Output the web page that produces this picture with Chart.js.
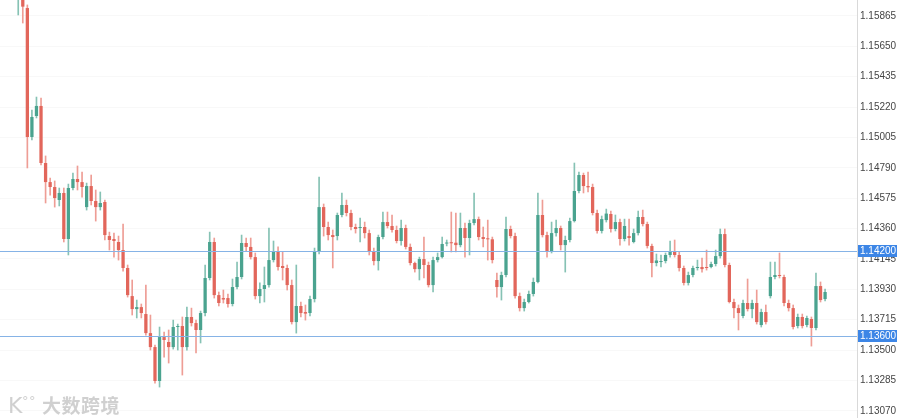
<!DOCTYPE html>
<html>
<head>
<meta charset="utf-8">
<script src="https://cdn.jsdelivr.net/npm/chart.js@4.4.0/dist/chart.umd.min.js"></script>
<style>
html,body{margin:0;padding:0;background:#ffffff;}
#wrap{position:relative;width:900px;height:418px;overflow:hidden;}
#wm{position:absolute;left:8px;top:389px;font-family:'Noto Sans CJK SC','Noto Sans',sans-serif;font-size:19px;font-weight:700;color:rgba(200,200,200,0.85);white-space:nowrap;letter-spacing:0.5px;line-height:24px;}
#wm .logo{font-family:'DejaVu Sans',sans-serif;font-size:22px;font-weight:400;margin-right:6px;}
#wm .logo sup{font-size:13px;vertical-align:8px;margin-left:-1px;}
</style>
</head>
<body>
<div id="wrap">
<canvas id="c" width="900" height="418"></canvas>
<div id="wm"><span class="logo">K<sup>°°</sup></span>大数跨境</div>
</div>
<script>
// OHLC values, one entry per candle (oldest first)
const openValues = [
1.16040,1.16070,1.15921,1.15008,1.15157,1.15228,1.14824,1.14689,1.14654,1.14562,
1.14612,1.14286,1.14647,1.14711,1.14689,1.14512,1.14661,1.14555,1.14512,1.14548,
1.14307,1.14286,1.14265,1.14208,1.14081,1.13882,1.13790,1.13804,1.13755,1.13620,
1.13521,1.13281,1.13592,1.13557,1.13521,1.13663,1.13670,1.13521,1.13734,1.13691,
1.13642,1.13762,1.14010,1.14265,1.13889,1.13868,1.13868,1.13826,1.13946,1.14017,
1.14258,1.14230,1.14158,1.13882,1.13932,1.13960,1.14137,1.14201,1.14095,1.14081,
1.13960,1.13698,1.13812,1.13769,1.13762,1.13861,1.14194,1.14512,1.14371,1.14314,
1.14307,1.14456,1.14527,1.14470,1.14371,1.14364,1.14371,1.14328,1.14194,1.14130,
1.14300,1.14406,1.14378,1.14350,1.14272,1.14364,1.14230,1.14116,1.14073,1.14144,
1.14102,1.13960,1.14137,1.14158,1.14254,1.14260,1.14260,1.14243,1.14364,1.14293,
1.14399,1.14427,1.14300,1.14288,1.14284,1.13996,1.13946,1.14031,1.14357,1.14307,
1.13882,1.13797,1.13840,1.13897,1.13982,1.14456,1.14314,1.14194,1.14328,1.14364,
1.14243,1.14279,1.14413,1.14626,1.14739,1.14661,1.14654,1.14470,1.14343,1.14420,
1.14463,1.14357,1.14406,1.14286,1.14307,1.14265,1.14328,1.14442,1.14392,1.14237,
1.14116,1.14123,1.14130,1.14173,1.14201,1.14173,1.14081,1.13975,1.14031,1.14081,
1.14088,1.14088,1.14088,1.14109,1.14165,1.14321,1.14102,1.13840,1.13797,1.13741,
1.13833,1.13790,1.13833,1.13677,1.13769,1.13882,1.14017,1.14031,1.14017,1.13833,
1.13797,1.13670,1.13734,1.13677,1.13720,1.13656,1.13953,1.13861
];
const highValues = [
1.16200,1.16120,1.15943,1.15199,1.15291,1.15284,1.14874,1.14718,1.14697,1.14647,
1.14647,1.14675,1.14753,1.14803,1.14760,1.14682,1.14739,1.14633,1.14619,1.14562,
1.14335,1.14328,1.14307,1.14392,1.14102,1.13996,1.13854,1.13826,1.13960,1.13748,
1.13535,1.13663,1.13628,1.13642,1.13712,1.13684,1.13734,1.13804,1.13797,1.13712,
1.13776,1.14102,1.14335,1.14293,1.13911,1.13925,1.13897,1.14003,1.14123,1.14314,
1.14293,1.14293,1.14187,1.13975,1.14088,1.14364,1.14272,1.14230,1.14194,1.14102,
1.13996,1.14102,1.13840,1.13819,1.13882,1.14222,1.14725,1.14534,1.14406,1.14350,
1.14470,1.14612,1.14562,1.14491,1.14392,1.14434,1.14406,1.14350,1.14222,1.14314,
1.14477,1.14477,1.14456,1.14378,1.14420,1.14385,1.14251,1.14123,1.14158,1.14300,
1.14123,1.14158,1.14187,1.14300,1.14279,1.14477,1.14470,1.14470,1.14399,1.14420,
1.14612,1.14442,1.14371,1.14420,1.14300,1.14045,1.14052,1.14442,1.14378,1.14328,
1.13904,1.13861,1.13918,1.14010,1.14612,1.14562,1.14335,1.14406,1.14420,1.14378,
1.14307,1.14434,1.14824,1.14760,1.14753,1.14760,1.14675,1.14491,1.14449,1.14498,
1.14484,1.14456,1.14427,1.14427,1.14427,1.14357,1.14484,1.14491,1.14406,1.14251,
1.14180,1.14173,1.14187,1.14272,1.14279,1.14194,1.14095,1.14052,1.14095,1.14137,
1.14151,1.14208,1.14123,1.14208,1.14357,1.14357,1.14116,1.13861,1.13819,1.13854,
1.14003,1.13854,1.13925,1.13790,1.13819,1.14123,1.14123,1.14187,1.14031,1.13854,
1.13819,1.13755,1.13755,1.13741,1.13734,1.14045,1.13982,1.13932
];
const lowValues = [
1.15872,1.15815,1.14789,1.14987,1.15143,1.14810,1.14541,1.14597,1.14512,1.14520,
1.14265,1.14173,1.14633,1.14633,1.14583,1.14491,1.14527,1.14413,1.14491,1.14279,
1.14208,1.14158,1.14137,1.14059,1.13875,1.13748,1.13727,1.13727,1.13606,1.13500,
1.13266,1.13238,1.13450,1.13408,1.13507,1.13500,1.13323,1.13500,1.13670,1.13479,
1.13550,1.13741,1.13996,1.13868,1.13812,1.13833,1.13804,1.13812,1.13932,1.14003,
1.14201,1.14144,1.13861,1.13833,1.13840,1.13946,1.14123,1.14066,1.13996,1.13925,
1.13684,1.13620,1.13734,1.13712,1.13741,1.13840,1.14180,1.14307,1.14279,1.14081,
1.14279,1.14442,1.14449,1.14350,1.14328,1.14265,1.14293,1.14173,1.14102,1.14066,
1.14286,1.14364,1.14335,1.14258,1.14243,1.14215,1.14102,1.14052,1.13996,1.14010,
1.13946,1.13911,1.14123,1.14151,1.14237,1.14194,1.14194,1.14230,1.14158,1.14173,
1.14385,1.14279,1.14230,1.14137,1.14116,1.13875,1.13854,1.14017,1.14293,1.13868,
1.13776,1.13776,1.13833,1.13882,1.13975,1.14300,1.14158,1.14187,1.14307,1.14208,
1.14052,1.14265,1.14406,1.14612,1.14612,1.14619,1.14456,1.14328,1.14328,1.14406,
1.14335,1.14343,1.14243,1.14272,1.14243,1.14258,1.14314,1.14378,1.14222,1.14017,
1.14095,1.14088,1.14116,1.14158,1.14158,1.14059,1.13960,1.13960,1.14017,1.14066,
1.14052,1.14066,1.14081,1.14095,1.14151,1.14088,1.13833,1.13727,1.13642,1.13727,
1.13776,1.13727,1.13684,1.13663,1.13684,1.13868,1.14003,1.14010,1.13812,1.13776,
1.13649,1.13656,1.13656,1.13663,1.13528,1.13642,1.13840,1.13847
];
const closeValues = [
1.16110,1.15931,1.15008,1.15150,1.15228,1.14824,1.14689,1.14654,1.14576,1.14612,
1.14286,1.14647,1.14711,1.14689,1.14654,1.14661,1.14555,1.14512,1.14541,1.14314,
1.14279,1.14272,1.14208,1.14081,1.13889,1.13790,1.13804,1.13762,1.13620,1.13521,
1.13281,1.13592,1.13571,1.13521,1.13663,1.13670,1.13521,1.13734,1.13691,1.13642,
1.13762,1.14010,1.14265,1.13889,1.13833,1.13858,1.13826,1.13946,1.14017,1.14258,
1.14230,1.14158,1.13882,1.13932,1.13960,1.14137,1.14201,1.14088,1.14081,1.13960,
1.13698,1.13812,1.13762,1.13758,1.13861,1.14194,1.14512,1.14371,1.14314,1.14300,
1.14456,1.14527,1.14470,1.14371,1.14357,1.14369,1.14328,1.14194,1.14130,1.14300,
1.14406,1.14378,1.14350,1.14272,1.14364,1.14230,1.14116,1.14073,1.14144,1.14102,
1.13960,1.14137,1.14158,1.14251,1.14260,1.14256,1.14243,1.14364,1.14293,1.14399,
1.14427,1.14300,1.14286,1.14284,1.14137,1.13946,1.14031,1.14357,1.14307,1.13882,
1.13797,1.13840,1.13897,1.13982,1.14456,1.14314,1.14194,1.14328,1.14364,1.14243,
1.14279,1.14413,1.14626,1.14739,1.14661,1.14652,1.14470,1.14343,1.14427,1.14466,
1.14357,1.14406,1.14286,1.14378,1.14293,1.14328,1.14442,1.14392,1.14237,1.14116,
1.14134,1.14128,1.14173,1.14201,1.14173,1.14081,1.13975,1.14031,1.14081,1.14088,
1.14073,1.14081,1.14109,1.14165,1.14321,1.14102,1.13840,1.13797,1.13762,1.13833,
1.13790,1.13833,1.13698,1.13769,1.13698,1.14017,1.14031,1.14024,1.13833,1.13797,
1.13663,1.13734,1.13670,1.13727,1.13656,1.13953,1.13854,1.13911
];
// candle periods (sequence numbers)
const periods = openValues.map((_, i) => i);
// price-axis tick labels
const tickValues = [1.15865,1.15650,1.15435,1.15220,1.15005,1.14790,1.14575,1.14360,1.14145,1.13930,1.13715,1.13500,1.13285,1.13070];
// horizontal price levels marked on the chart
const levelValues = [1.14200, 1.13600];

const UP = '#4aa38f', DOWN = '#e2665b';
const UP_WICK = '#86c2b4', DOWN_WICK = '#ee9d95';
const isUp = periods.map(i => closeValues[i] >= openValues[i]);

const levelPlugin = {
  id: 'levels',
  afterDatasetsDraw(chart) {
    const {ctx, chartArea} = chart;
    const y = chart.scales.y;
    ctx.save();
    ctx.strokeStyle = '#86b3e6';
    ctx.lineWidth = 1.2;
    levelValues.forEach(v => {
      const py = Math.round(y.getPixelForValue(v)) + 0.5;
      ctx.beginPath();
      ctx.moveTo(chartArea.left, py);
      ctx.lineTo(chartArea.right, py);
      ctx.stroke();
    });
    ctx.restore();
  },
  afterDraw(chart) {
    const {ctx, chartArea} = chart;
    const y = chart.scales.y;
    ctx.save();
    levelValues.forEach(v => {
      const py = y.getPixelForValue(v);
      const x0 = chartArea.right + 1;
      ctx.fillStyle = '#3d86e6';
      ctx.fillRect(x0, Math.round(py) - 6, 39, 12);
      ctx.fillStyle = '#ffffff';
      ctx.font = '10px "Liberation Sans", Arial, sans-serif';
      ctx.textBaseline = 'middle';
      ctx.textAlign = 'left';
      ctx.fillText(v.toFixed(5), x0 + 2, Math.round(py) + 0.5);
    });
    ctx.restore();
  }
};

new Chart(document.getElementById('c'), {
  type: 'bar',
  data: {
    datasets: [
      {
        label: 'body',
        data: periods.map(i => ({x: i, y: [openValues[i], closeValues[i]]})),
        backgroundColor: periods.map(i => isUp[i] ? UP : DOWN),
        borderWidth: 0,
        barPercentage: 0.72,
        categoryPercentage: 1,
        minBarLength: 1,
        grouped: false,
        order: 1
      },
      {
        label: 'wick',
        data: periods.map(i => ({x: i, y: [lowValues[i], highValues[i]]})),
        backgroundColor: periods.map(i => isUp[i] ? UP_WICK : DOWN_WICK),
        borderWidth: 0,
        barThickness: 1,
        grouped: false,
        order: 2
      }
    ]
  },
  options: {
    responsive: false,
    animation: false,
    layout: {padding: 0},
    plugins: {legend: {display: false}, tooltip: {enabled: false}},
    scales: {
      x: {
        type: 'linear',
        display: false,
        offset: false,
        min: -4,
        max: 184
      },
      y: {
        type: 'linear',
        position: 'right',
        min: 1.13019,
        max: 1.15978,
        afterBuildTicks: s => { s.ticks = tickValues.map(v => ({value: v})); },
        afterFit: s => { s.width = 43; s.paddingTop = 0; s.paddingBottom = 0; },
        grid: {color: '#f8f8f8', drawTicks: false},
        border: {color: '#d9d9d9'},
        ticks: {
          padding: 3,
          color: '#454545',
          font: {family: '"Liberation Sans", Arial, sans-serif', size: 10},
          callback: v => Number(v).toFixed(5)
        }
      }
    }
  },
  plugins: [levelPlugin]
});
</script>
</body>
</html>
